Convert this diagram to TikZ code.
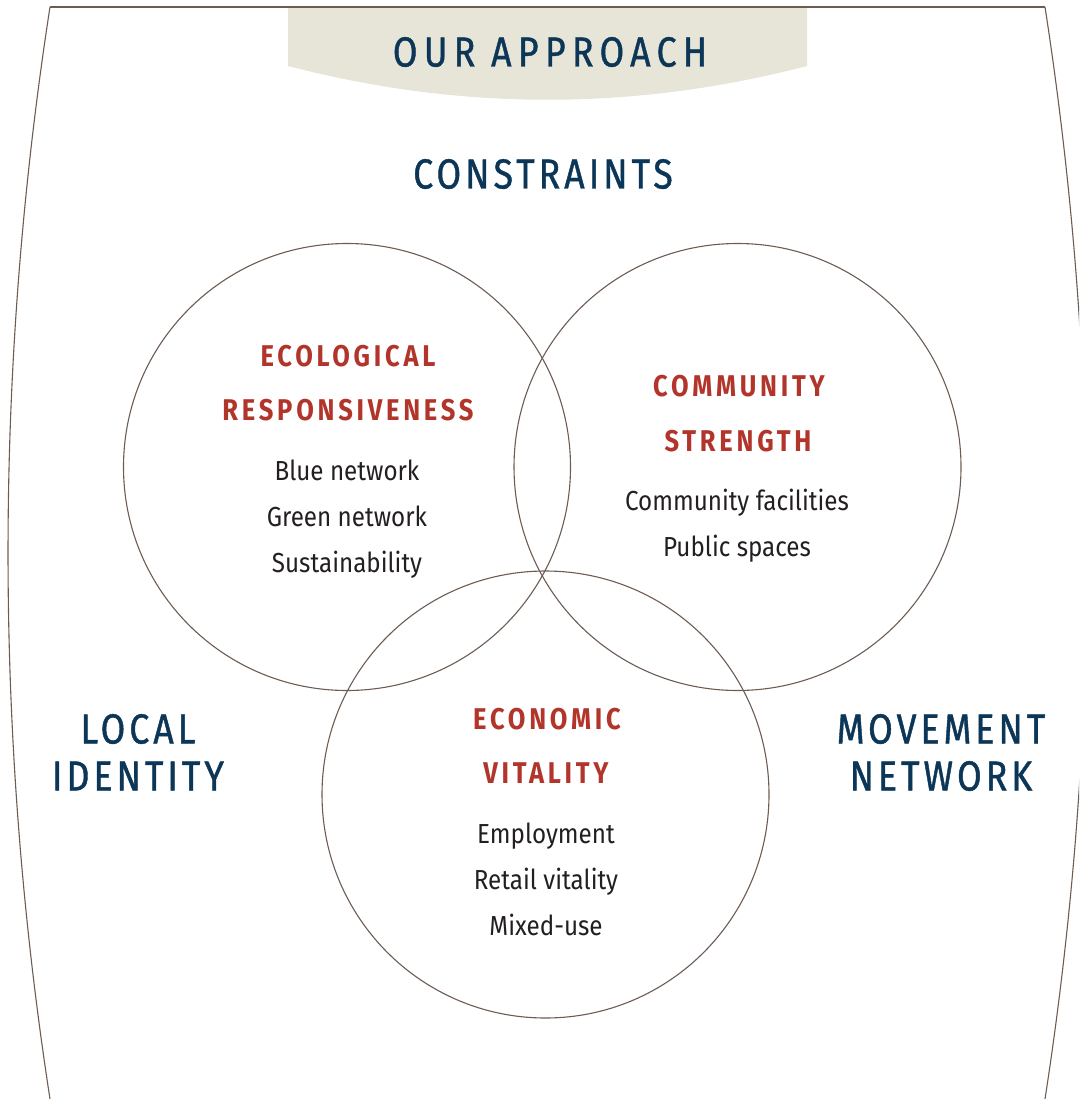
\documentclass[tikz,border=0pt]{standalone}
\usepackage{fontspec}
\setmainfont{Fira Sans}
\newfontfamily\navyfont[FakeStretch=0.85,FakeBold=1,LetterSpace=9.5]{Fira Sans}
\newfontfamily\headfont[FakeStretch=0.85,FakeBold=1,LetterSpace=15]{Fira Sans}
\newfontfamily\redfont[FakeStretch=0.85,LetterSpace=12.5]{Fira Sans Bold}
\newfontfamily\bodyfont[FakeStretch=0.88]{Fira Sans}
\definecolor{navy}{HTML}{0B3657}
\definecolor{brick}{HTML}{B2352B}
\definecolor{ink}{HTML}{231F20}
\definecolor{rule}{HTML}{6D5C52}
\definecolor{banner}{HTML}{E7E5D7}
\tikzset{
  navytxt/.style={anchor=base,text=navy,font=\navyfont\fontsize{42}{42}\selectfont,inner sep=0pt},
  headtxt/.style={anchor=base,text=navy,font=\headfont\fontsize{42}{42}\selectfont,inner sep=0pt},
  redtxt/.style={anchor=base,text=brick,font=\redfont\fontsize{30}{30}\selectfont,inner sep=0pt},
  bodytxt/.style={anchor=base,text=ink,font=\bodyfont\fontsize{27.5}{27.5}\selectfont,inner sep=0pt},
  ring/.style={draw=rule,line width=1.1pt},
}
\begin{document}
\begin{tikzpicture}[x=1pt,y=-1pt]
\useasboundingbox (0,0) rectangle (1079,1099);
\begin{scope}
\clip (0,0) rectangle (1079,1099);
% banner
\fill[banner] (288,7.5) -- (807,7.5) -- (807,66) .. controls (634,111) and (461,111) .. (288,66) -- cycle;
% frame
\draw[rule,line width=1.1pt] (50,7) -- (1045,7);
\draw[rule,line width=1.1pt] (50,7) arc[start angle=-171.2,end angle=-189.5,radius=3570];
\draw[rule,line width=1.1pt] (1045,7) arc[start angle=-8.8,end angle=9.5,radius=3570];
\end{scope}
% circles
\coordinate (cl) at (347,467);
\coordinate (cr) at (737.5,467);
\coordinate (cb) at (545.5,794.5);
\draw[ring] (cl) circle[radius=223.5];
\draw[ring] (cr) circle[radius=223.5];
\draw[ring] (cb) circle[radius=223.5];
% titles
\node[headtxt] (title) at (550,66.5) {OUR APPROACH};
\node[navytxt] (constr) at (543,188.5) {CONSTRAINTS};
\node[navytxt] (loc1) at (138,743.5) {LOCAL};
\node[navytxt] (loc2) at (138,790.5) {IDENTITY};
\node[navytxt] (mov1) at (941,743.5) {MOVEMENT};
\node[navytxt] (mov2) at (941,790.5) {NETWORK};
% ecological
\node[redtxt] (eco1) at (348,366.5) {ECOLOGICAL};
\node[redtxt] (eco2) at (348,420.5) {RESPONSIVENESS};
\node[bodytxt] (eco3) at (347,480.7) {Blue network};
\node[bodytxt] (eco4) at (347,526.7) {Green network};
\node[bodytxt] (eco5) at (347,572.5) {Sustainability};
% community
\node[redtxt] (com1) at (739,396.5) {COMMUNITY};
\node[redtxt] (com2) at (738,451.5) {STRENGTH};
\node[bodytxt] (com3) at (737,510.5) {Community facilities};
\node[bodytxt] (com4) at (737,556.5) {Public spaces};
% economic
\node[redtxt] (ecn1) at (547,729.5) {ECONOMIC};
\node[redtxt] (ecn2) at (546,783.5) {VITALITY};
\node[bodytxt] (ecn3) at (546,843.5) {Employment};
\node[bodytxt] (ecn4) at (546,889.5) {Retail vitality};
\node[bodytxt] (ecn5) at (546,935.5) {Mixed-use};
\end{tikzpicture}
\end{document}
